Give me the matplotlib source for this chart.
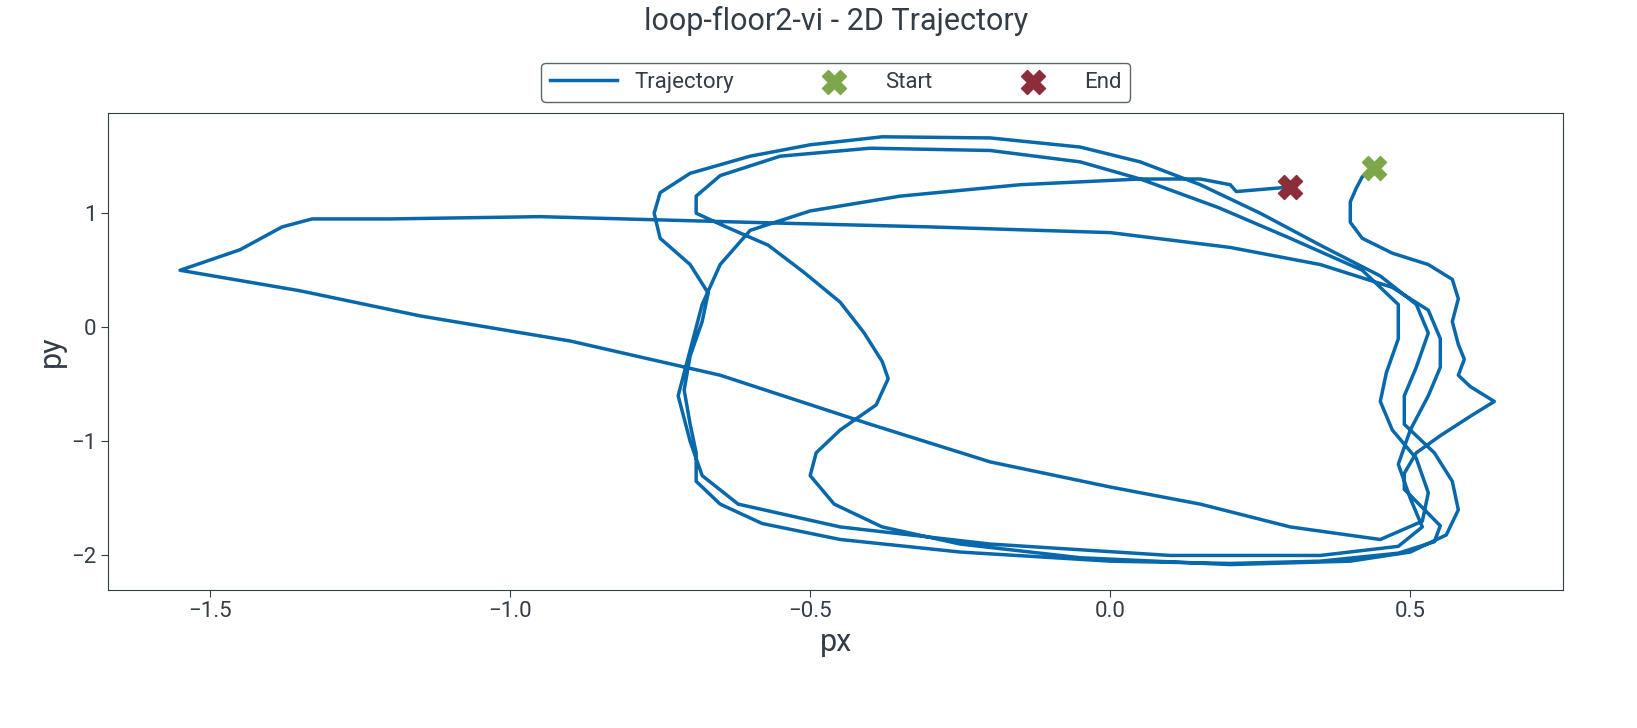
import matplotlib.pyplot as plt

plt.rcParams['font.family'] = ['Roboto', 'DejaVu Sans']

# trajectory samples, in order, as (px, py)
pts = [
    # start, down the right side, bump, bottom
    (0.44, 1.40), (0.42, 1.32), (0.41, 1.22), (0.40, 1.10), (0.40, 0.92), (0.42, 0.78),
    (0.47, 0.65), (0.53, 0.55), (0.57, 0.42), (0.58, 0.25), (0.57, 0.05), (0.58, -0.15),
    (0.59, -0.28), (0.58, -0.42), (0.60, -0.52), (0.64, -0.65), (0.60, -0.78), (0.55, -0.95),
    (0.51, -1.10), (0.49, -1.28), (0.49, -1.42), (0.52, -1.58), (0.55, -1.74), (0.54, -1.88),
    (0.48, -1.98), (0.35, -2.05), (0.20, -2.07), (0.00, -2.05), (-0.25, -1.97), (-0.45, -1.86),
    (-0.58, -1.72), (-0.65, -1.55), (-0.69, -1.35), (-0.69, -1.10),
    # outer left side up, outer top
    (-0.70, -0.85), (-0.71, -0.55), (-0.70, -0.25), (-0.68, 0.05), (-0.67, 0.30),
    (-0.70, 0.55), (-0.75, 0.78), (-0.76, 1.00), (-0.75, 1.18), (-0.70, 1.35),
    (-0.60, 1.50), (-0.50, 1.60), (-0.38, 1.67), (-0.20, 1.66), (-0.05, 1.58),
    (0.05, 1.45), (0.15, 1.25),
    # down to the right, bottom again
    (0.25, 1.00), (0.35, 0.72), (0.45, 0.45), (0.51, 0.20), (0.53, -0.05), (0.51, -0.35),
    (0.49, -0.60), (0.49, -0.85), (0.54, -1.10), (0.57, -1.35), (0.58, -1.60),
    (0.56, -1.82), (0.50, -1.97), (0.40, -2.05), (0.20, -2.08), (-0.05, -2.02),
    (-0.25, -1.90), (-0.38, -1.75), (-0.46, -1.55), (-0.50, -1.30), (-0.49, -1.10),
    # diamond up, middle top
    (-0.45, -0.90), (-0.39, -0.68), (-0.37, -0.45), (-0.38, -0.30), (-0.41, -0.05),
    (-0.45, 0.22), (-0.51, 0.48), (-0.57, 0.72), (-0.64, 0.88), (-0.69, 1.00),
    (-0.69, 1.15), (-0.65, 1.33), (-0.55, 1.50), (-0.40, 1.57), (-0.20, 1.55),
    (-0.05, 1.45), (0.05, 1.30),
    # down to the right, bottom, long loop to the left
    (0.18, 1.05), (0.30, 0.78), (0.42, 0.50), (0.48, 0.20), (0.48, -0.10), (0.46, -0.40),
    (0.45, -0.65), (0.47, -0.90), (0.51, -1.15), (0.53, -1.45), (0.52, -1.70),
    (0.45, -1.86), (0.30, -1.75), (0.15, -1.55), (0.00, -1.40), (-0.20, -1.18),
    (-0.40, -0.85), (-0.65, -0.42), (-0.90, -0.12), (-1.15, 0.10), (-1.35, 0.32),
    (-1.55, 0.50), (-1.45, 0.68), (-1.38, 0.88), (-1.33, 0.95), (-1.20, 0.95),
    (-0.95, 0.97), (-0.60, 0.92), (-0.30, 0.88), (0.00, 0.83), (0.20, 0.70),
    (0.35, 0.55), (0.47, 0.35), (0.53, 0.15), (0.55, -0.10), (0.55, -0.35),
    (0.53, -0.60), (0.50, -0.90), (0.48, -1.20), (0.50, -1.50), (0.52, -1.75),
    (0.48, -1.92), (0.35, -2.00), (0.10, -2.00), (-0.20, -1.90), (-0.45, -1.75),
    (-0.62, -1.55), (-0.68, -1.30),
    # inner left side up to the end
    (-0.70, -1.00), (-0.72, -0.60), (-0.70, -0.20), (-0.68, 0.20), (-0.65, 0.55),
    (-0.60, 0.85), (-0.50, 1.02), (-0.35, 1.15), (-0.15, 1.25), (0.05, 1.30),
    (0.15, 1.30), (0.20, 1.25), (0.21, 1.19), (0.30, 1.23),
]
px = [p[0] for p in pts]
py = [p[1] for p in pts]

fig, ax = plt.subplots(figsize=(16.37, 7.28), dpi=100)
ax.plot(px, py, color='#0868ac', lw=2.5, label='Trajectory', solid_joinstyle='round')
ax.scatter(px[0], py[0], marker='X', s=300, color='#7da74a', label='Start', zorder=5)
ax.scatter(px[-1], py[-1], marker='X', s=300, color='#8c2d3a', label='End', zorder=5)

ax.set_xlim(-1.67, 0.755)
ax.set_ylim(-2.3, 1.88)
ax.set_xticks([-1.5, -1.0, -0.5, 0.0, 0.5])
ax.set_yticks([-2, -1, 0, 1])
ax.set_xlabel('px', fontsize=22, color='#333d47')
ax.set_ylabel('py', fontsize=22, color='#333d47')
ax.set_title('loop-floor2-vi - 2D Trajectory', fontsize=22, color='#333d47', pad=60)
ax.tick_params(labelsize=16, colors='#333d47', length=5)
for s in ax.spines.values():
    s.set_color('#333d47')
leg = ax.legend(loc='lower center', bbox_to_anchor=(0.5, 1.0), ncol=3, fontsize=16,
                frameon=True, fancybox=True, edgecolor='#333d47', columnspacing=3, handlelength=3)
for t in leg.get_texts():
    t.set_color('#333d47')
fig.subplots_adjust(left=0.066, right=0.955, top=0.845, bottom=0.19)
fig.savefig('out.png')
